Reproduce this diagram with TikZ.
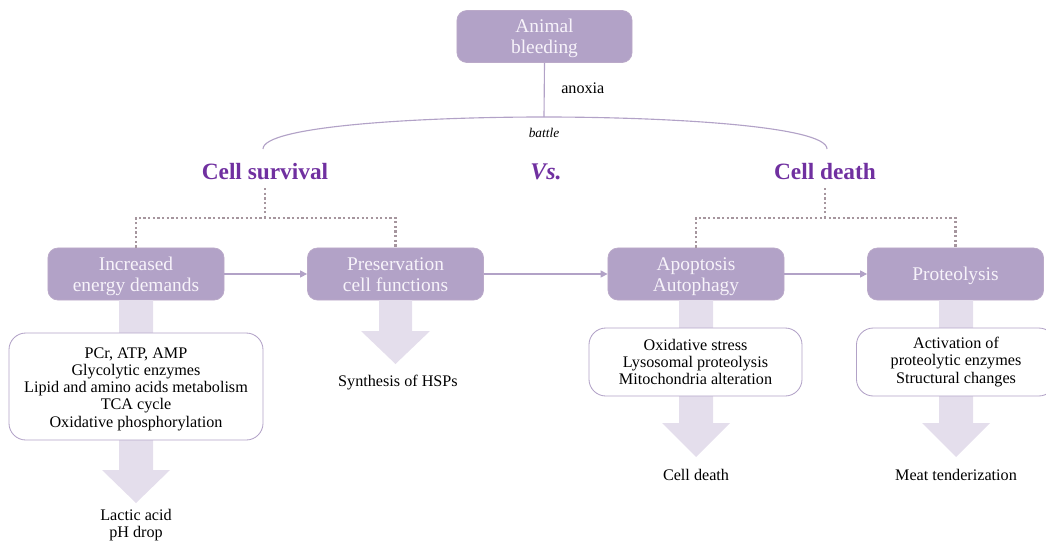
\documentclass[tikz,border=0pt]{standalone}
\usepackage{fontspec}
\setmainfont{Liberation Serif}
\usetikzlibrary{arrows.meta}
\definecolor{boxfill}{HTML}{B2A2C7}
\definecolor{boxedge}{HTML}{BBAAC9}
\definecolor{boxtext}{HTML}{F7F3FA}
\definecolor{linec}{HTML}{B2A2C7}
\definecolor{bigarrow}{HTML}{E4DEEC}
\definecolor{dotc}{HTML}{A6969E}
\definecolor{headc}{HTML}{7030A0}
\newcommand\lowtxt[2]{\raisebox{0pt}[\dimexpr\height+#1\relax]{\begin{tabular}{@{}c@{}}#2\end{tabular}}}
\tikzset{
  pbox/.style={draw=boxedge, line width=0.5pt, fill=boxfill, rounded corners=7pt,
    minimum width=4.4cm, minimum height=1.3cm, inner sep=0pt, align=center,
    text=boxtext, font=\fontsize{13.8}{14.6}\selectfont},
  wbox/.style={draw=linec, line width=0.6pt, fill=white, rounded corners=12pt,
    inner sep=0pt, align=center, font=\fontsize{11.5}{12.2}\selectfont},
  plain/.style={align=center, inner sep=0pt, font=\fontsize{11.5}{12.6}\selectfont},
  head/.style={inner sep=1pt, text=headc, font=\fontsize{16.6}{18}\selectfont\bfseries},
  conn/.style={draw=linec, line width=0.8pt, -{Triangle[length=5pt,width=5pt]}},
  dots/.style={draw=dotc, line width=1.9pt, dash pattern=on 1.6pt off 1.7pt},
  bigarr/.style={fill=bigarrow, draw=none},
}
\begin{document}
\begin{tikzpicture}[x=0.025cm, y=-0.025cm]
\useasboundingbox (0,0) rectangle (1046,540);

% top
\node[pbox, minimum width=4.375cm] (ab) at (544.5,36.5) {\lowtxt{3.5pt}{Animal\\bleeding}};
\coordinate (arctop) at (544,117);
\coordinate (arcL) at (263,149);
\coordinate (arcR) at (827,149);
\draw[linec, line width=0.8pt] (ab.south) -- (arctop);
\draw[linec, line width=0.8pt] (arcL) .. controls (263,126) and (420,117) .. (arctop)
  .. controls (668,117) and (827,126) .. (arcR);
\node[plain, anchor=west] (anox) at (561,88) {anoxia};
\node[plain, font=\fontsize{9.5}{11}\selectfont\itshape] (battle) at (544,133) {battle};

\node[head] (cs) at (265,172) {Cell survival};
\node[head, font=\fontsize{17}{18}\selectfont\bfseries\itshape] (vs) at (546,172) {Vs.};
\node[head] (cd) at (825,172) {Cell death};

% purple boxes
\node[pbox] (ied) at (136,274) {\lowtxt{4pt}{Increased\\energy demands}};
\node[pbox] (pcf) at (395.5,274) {\lowtxt{4pt}{Preservation\\cell functions}};
\node[pbox] (apo) at (696,274) {\lowtxt{4pt}{Apoptosis\\Autophagy}};
\node[pbox] (pro) at (955.5,274) {\lowtxt{3pt}{Proteolysis}};

% dotted connectors
\coordinate (csj) at (265,218);
\coordinate (cdj) at (825,218);
\draw[dots] (265,188) -- (csj);
\draw[dots] (ied.north) |- (csj) -| (pcf.north);
\draw[dots] (825,188) -- (cdj);
\draw[dots] (apo.north) |- (cdj) -| (pro.north);

% horizontal connectors
\draw[conn] (ied.east) -- (pcf.west);
\draw[conn] (pcf.east) -- (apo.west);
\draw[conn] (apo.east) -- (pro.west);

% big arrows
\fill[bigarr] (119,300) -- (119,470) -- (102,470) -- (136,503) -- (170,470) -- (153,470) -- (153,300) -- cycle;
\fill[bigarr] (379,300) -- (379,331) -- (361,331) -- (395.5,364) -- (430,331) -- (412,331) -- (412,300) -- cycle;
\fill[bigarr] (679,300) -- (679,423) -- (662,423) -- (696,457) -- (730,423) -- (713,423) -- (713,300) -- cycle;
\fill[bigarr] (939,300) -- (939,423) -- (922,423) -- (956,457) -- (990,423) -- (973,423) -- (973,300) -- cycle;

% white boxes
\node[wbox, minimum width=6.35cm, minimum height=2.675cm] (list1) at (136,386.5)
  {\lowtxt{4pt}{PCr, ATP, AMP\\Glycolytic enzymes\\Lipid and amino acids metabolism\\TCA cycle\\Oxidative phosphorylation}};
\node[wbox, minimum width=5.325cm, minimum height=1.7cm] (list2) at (695.5,362)
  {Oxidative stress\\Lysosomal proteolysis\\Mitochondria alteration};
\node[wbox, minimum width=4.975cm, minimum height=1.7cm] (list3) at (956,362)
  {Activation of\\proteolytic enzymes\\Structural changes};

% outcomes
\node[plain] (hsp) at (398,383) {Synthesis of HSPs};
\node[plain] (lac) at (136,525) {Lactic acid\\pH drop};
\node[plain] (cdeath) at (696,475) {Cell death};
\node[plain] (meat) at (956,475) {Meat tenderization};
\end{tikzpicture}
\end{document}
